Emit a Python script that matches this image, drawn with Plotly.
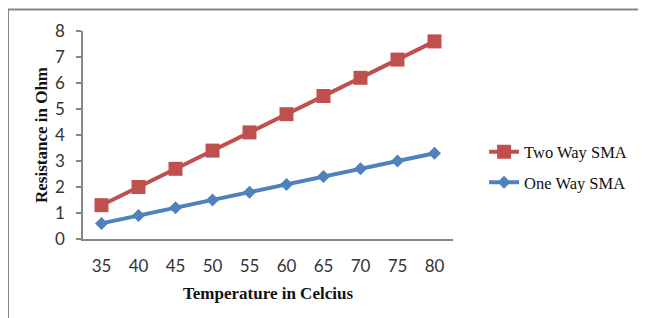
import plotly.graph_objects as go

temps = ["35", "40", "45", "50", "55", "60", "65", "70", "75", "80"]
two_way = [1.3, 2.0, 2.7, 3.4, 4.1, 4.8, 5.5, 6.2, 6.9, 7.6]
one_way = [0.6, 0.9, 1.2, 1.5, 1.8, 2.1, 2.4, 2.7, 3.0, 3.3]
y_ticks = [0, 1, 2, 3, 4, 5, 6, 7, 8]

RED = "#C0504D"
BLUE = "#4F81BD"
AXIS = "#868686"

fig = go.Figure()
fig.add_trace(go.Scatter(
    x=temps, y=two_way, name="Two Way SMA", mode="lines+markers",
    line=dict(color=RED, width=4),
    marker=dict(symbol="square", size=14, color=RED),
    legendgroup="a",
))
fig.add_trace(go.Scatter(
    x=temps, y=one_way, name="One Way SMA", mode="lines+markers",
    line=dict(color=BLUE, width=4),
    marker=dict(symbol="diamond", size=10, color=BLUE),
    legendgroup="b",
))

fig.update_layout(
    width=646, height=318,
    margin=dict(l=75, r=201, t=23, b=87),
    paper_bgcolor="white", plot_bgcolor="white",
    font=dict(family="Lato", size=17, color="#222222"),
    showlegend=True,
    legend=dict(
        x=1.084, xanchor="left", y=0.346, yanchor="middle",
        font=dict(family="Liberation Serif", size=16.5, color="#111111"),
        tracegroupgap=6, itemwidth=30,
        bgcolor="rgba(0,0,0,0)",
    ),
    xaxis=dict(
        type="category", range=[-0.5, 9.5],
        showline=True, linecolor=AXIS, linewidth=1.5,
        showgrid=False, zeroline=False, ticks="",
        tickfont=dict(family="Lato", size=17, color="#333333"),
        ticklabelstandoff=11,
        title=dict(text="<b>Temperature in Celcius</b>",
                   font=dict(family="Liberation Serif", size=17, color="#111111"),
                   standoff=12),
    ),
    yaxis=dict(
        range=[0, 8], tickvals=y_ticks,
        showline=True, linecolor=AXIS, linewidth=1.5,
        showgrid=False, zeroline=False,
        ticks="outside", ticklen=5, tickcolor=AXIS, tickwidth=1.5,
        tickfont=dict(family="Lato", size=17, color="#333333"),
        ticklabelstandoff=8,
        title=dict(text="<b>Resistance in Ohm</b>",
                   font=dict(family="Liberation Serif", size=17, color="#111111"),
                   standoff=3),
    ),
)

# outer chart frame (top and left edges visible)
fig.add_shape(type="line", xref="paper", yref="paper",
              x0=-0.2027, x1=1.6, y0=1.103, y1=1.103,
              line=dict(color=AXIS, width=2))
fig.add_shape(type="line", xref="paper", yref="paper",
              x0=-0.2027, x1=-0.2027, y0=1.103, y1=-0.6,
              line=dict(color=AXIS, width=2))

fig.write_html("out.html")
